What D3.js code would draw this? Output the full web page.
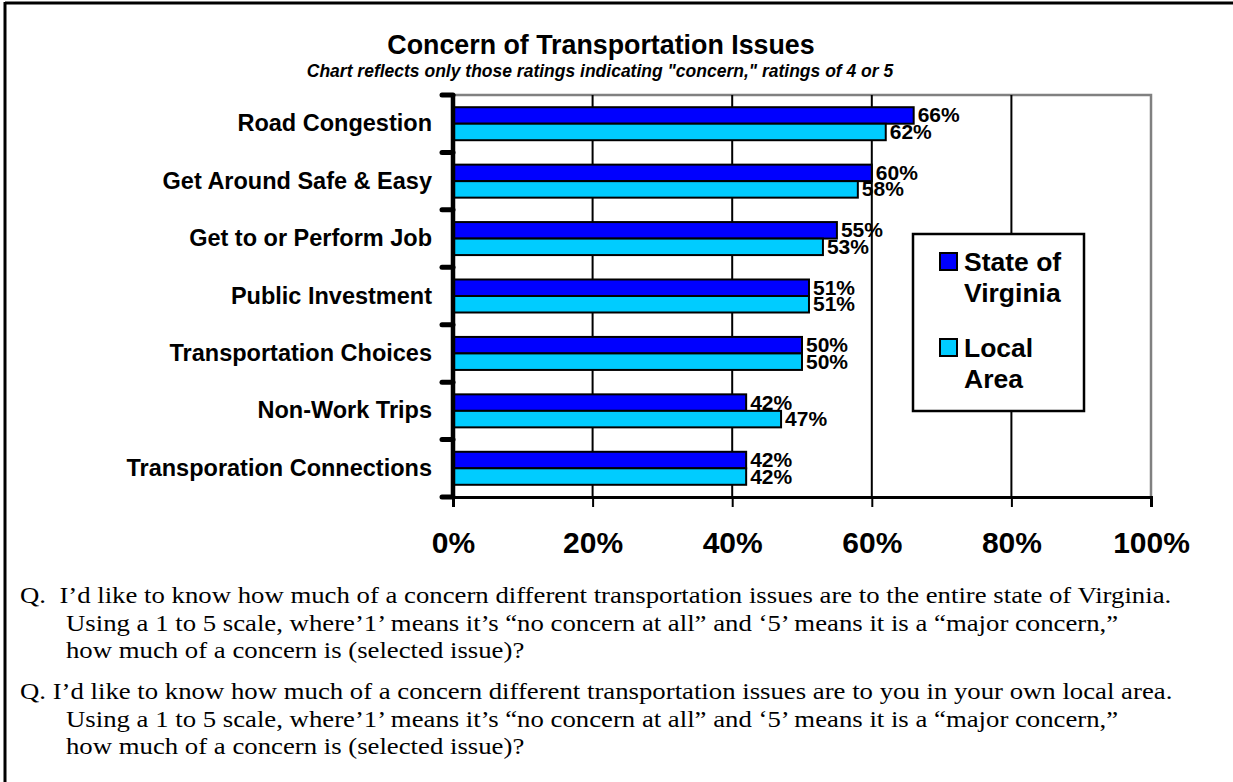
<!DOCTYPE html>
<html>
<head>
<meta charset="utf-8">
<script src="https://cdn.jsdelivr.net/npm/d3@7"></script>
<style>
  html, body { margin: 0; padding: 0; background: #fff; }
  svg { display: block; }
  .sans { font-family: "Liberation Sans", Arial, sans-serif; font-weight: bold; }
  .serif { font-family: "Liberation Serif", "Times New Roman", serif; }
</style>
</head>
<body>
<svg id="chart" width="1233" height="782"></svg>
<script>
// Survey results: share of ratings of 4 or 5 ("concern")
const categories = [
  "Road Congestion",
  "Get Around Safe & Easy",
  "Get to or Perform Job",
  "Public Investment",
  "Transportation Choices",
  "Non-Work Trips",
  "Transporation Connections"
];
const stateValues = [66, 60, 55, 51, 50, 42, 42];
const localValues = [62, 58, 53, 51, 50, 47, 42];
const seriesNames = ["State of Virginia", "Local Area"];
const seriesLegendLines = [["State of", "Virginia"], ["Local", "Area"]];
const seriesColors = ["#0000FF", "#00CCFF"];
const tickValues = [0, 20, 40, 60, 80, 100];

const titleText = "Concern of Transportation Issues";
const subtitleText = "Chart reflects only those ratings indicating \"concern,\" ratings of 4 or 5";
const questionLines = [
  { indent: false, text: "Q.\u00A0 I\u2019d like to know how much of a concern different transportation issues are to the entire state of Virginia." },
  { indent: true,  text: "Using a 1 to 5 scale, where\u20191\u2019 means it\u2019s \u201Cno concern at all\u201D and \u20185\u2019 means it is a \u201Cmajor concern,\u201D" },
  { indent: true,  text: "how much of a concern is (selected issue)?" },
  { indent: false, text: "Q. I\u2019d like to know how much of a concern different transportation issues are to you in your own local area." },
  { indent: true,  text: "Using a 1 to 5 scale, where\u20191\u2019 means it\u2019s \u201Cno concern at all\u201D and \u20185\u2019 means it is a \u201Cmajor concern,\u201D" },
  { indent: true,  text: "how much of a concern is (selected issue)?" }
];

const svg = d3.select("#chart");

// Outer frame (top and left edges)
svg.append("line").attr("x1", 5).attr("x2", 1233).attr("y1", 3).attr("y2", 3)
  .attr("stroke", "#000").attr("stroke-width", 3);
svg.append("line").attr("x1", 5).attr("x2", 5).attr("y1", 2).attr("y2", 782)
  .attr("stroke", "#000").attr("stroke-width", 3);

// Plot geometry
const plot = { left: 453, right: 1151, top: 95, bottom: 497 };

const x = d3.scaleLinear().domain([0, 100]).range([plot.left, plot.right]);
const y = d3.scaleBand().domain(categories).range([plot.top, plot.bottom]);
const ySeries = d3.scaleBand().domain([0, 1]).range([0, y.bandwidth()])
  .paddingInner(0).paddingOuter(0.74);

// Title
svg.append("text").attr("class", "sans")
  .attr("x", 601).attr("y", 54).attr("text-anchor", "middle")
  .attr("font-size", 26.8).text(titleText);
svg.append("text").attr("class", "sans")
  .attr("x", 600).attr("y", 77).attr("text-anchor", "middle")
  .attr("font-size", 17.5).attr("font-style", "italic").text(subtitleText);

// Plot frame: grey top and right edges
svg.append("path")
  .attr("d", `M${plot.left},${plot.top}H${plot.right}V${plot.bottom}`)
  .attr("fill", "none").attr("stroke", "#808080").attr("stroke-width", 2.5);

// Vertical gridlines
svg.append("g").selectAll("line")
  .data(tickValues.filter(d => d > 0 && d < 100))
  .join("line")
  .attr("x1", d => x(d)).attr("x2", d => x(d))
  .attr("y1", plot.top).attr("y2", plot.bottom)
  .attr("stroke", "#000").attr("stroke-width", 2);

// Bars
const rows = categories.map((c, i) => ({ cat: c, vals: [stateValues[i], localValues[i]] }));
const groups = svg.append("g").selectAll("g")
  .data(rows).join("g")
  .attr("transform", d => `translate(0,${y(d.cat)})`);

groups.selectAll("rect")
  .data(d => d.vals.map((v, s) => ({ v, s })))
  .join("rect")
  .attr("x", x(0))
  .attr("y", d => ySeries(d.s))
  .attr("width", d => x(d.v) - x(0))
  .attr("height", ySeries.bandwidth())
  .attr("fill", d => seriesColors[d.s])
  .attr("stroke", "#000").attr("stroke-width", 2);

// Bottom axis
const xAxis = d3.axisBottom(x)
  .tickValues(tickValues)
  .tickFormat(d => d + "%")
  .tickSize(10)
  .tickPadding(25);
const gx = svg.append("g").attr("transform", `translate(0,${plot.bottom})`).call(xAxis);
gx.select(".domain").attr("stroke", "#000").attr("stroke-width", 3);
gx.selectAll(".tick line").attr("stroke", "#000").attr("stroke-width", 2);
gx.selectAll(".tick text")
  .attr("font-size", 30).attr("fill", "#000")
  .attr("font-family", "Liberation Sans, Arial, sans-serif").attr("font-weight", "bold");

// Left axis: category labels
const yAxis = d3.axisLeft(y).tickSize(0).tickPadding(21);
const gy = svg.append("g").attr("transform", `translate(${plot.left},0)`).call(yAxis);
gy.select(".domain").remove();
gy.selectAll(".tick text")
  .attr("font-size", 23.5).attr("fill", "#000")
  .attr("font-family", "Liberation Sans, Arial, sans-serif").attr("font-weight", "bold");

// Left axis spine and category boundary ticks
const boundaries = categories.map(c => y(c)).concat([y.range()[1]]);
svg.append("line")
  .attr("x1", plot.left).attr("x2", plot.left)
  .attr("y1", plot.top - 1).attr("y2", plot.bottom + 1)
  .attr("stroke", "#000").attr("stroke-width", 4.5);
svg.append("g").selectAll("line")
  .data(boundaries).join("line")
  .attr("x1", plot.left - 11).attr("x2", plot.left)
  .attr("y1", d => d).attr("y2", d => d)
  .attr("stroke", "#000").attr("stroke-width", 5).attr("stroke-linecap", "round");

// Value labels
groups.selectAll("text.val")
  .data(d => d.vals.map((v, s) => ({ v, s })))
  .join("text")
  .attr("class", "val sans")
  .attr("x", d => x(d.v) + 4)
  .attr("y", d => ySeries(d.s) + ySeries.bandwidth() / 2 + 7)
  .attr("font-size", 21)
  .text(d => d.v + "%");

// Legend
const legend = svg.append("g").attr("transform", "translate(913,234)");
legend.append("rect").attr("width", 171).attr("height", 177)
  .attr("fill", "#fff").attr("stroke", "#000").attr("stroke-width", 2.5);
const items = legend.selectAll("g.item")
  .data(seriesNames.map((n, i) => ({ n, i })))
  .join("g").attr("class", "item")
  .attr("transform", d => `translate(0,${d.i * 86})`);
items.append("rect")
  .attr("x", 27).attr("y", 19).attr("width", 17).attr("height", 17)
  .attr("fill", d => seriesColors[d.i]).attr("stroke", "#000").attr("stroke-width", 2);
items.append("text").attr("class", "sans").attr("font-size", 26.5)
  .selectAll("tspan")
  .data(d => seriesLegendLines[d.i])
  .join("tspan")
  .attr("x", 51).attr("y", (d, k) => 37 + k * 31)
  .text(d => d);

// Survey question text (wide-set serif)
const qBaselines = [603, 631, 658, 699, 727, 754];
svg.append("g").selectAll("text")
  .data(questionLines).join("text")
  .attr("class", "serif")
  .attr("transform", (d, i) => `translate(${d.indent ? 66 : 20},${qBaselines[i]}) scale(1.115,1)`)
  .attr("font-size", 24)
  .attr("fill", "#000")
  .text(d => d.text);
</script>
</body>
</html>
